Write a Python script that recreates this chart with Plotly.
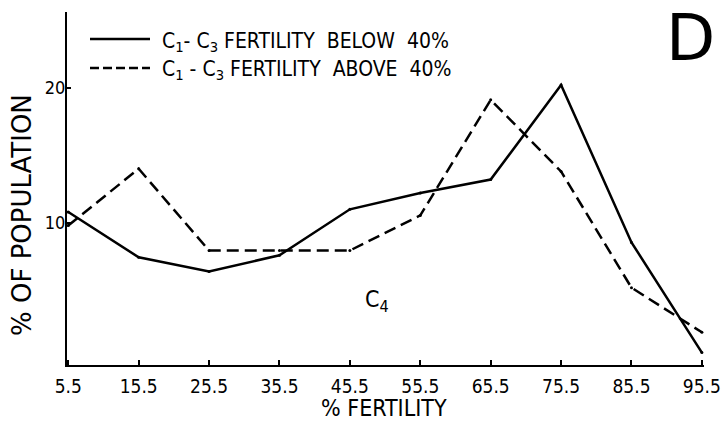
import plotly.graph_objects as go

fertility = [5.5, 15.5, 25.5, 35.5, 45.5, 55.5, 65.5, 75.5, 85.5, 95.5]
tick_labels = ["5.5", "15.5", "25.5", "35.5", "45.5", "55.5", "65.5", "75.5", "85.5", "95.5"]
below_40 = [10.8, 7.45, 6.4, 7.6, 11.0, 12.2, 13.2, 20.2, 8.55, 0.4]
above_40 = [9.8, 14.0, 7.95, 7.95, 7.95, 10.55, 19.1, 13.8, 5.2, 1.9]
y_ticks = [10, 20]

FONT = "DejaVu Sans Condensed, Liberation Sans Narrow, sans-serif"

fig = go.Figure()
fig.add_trace(go.Scatter(
    x=fertility, y=below_40, mode="lines+markers",
    line=dict(color="black", width=2.5),
    marker=dict(color="black", size=3),
    name="C1-C3 FERTILITY BELOW 40%", showlegend=False))
fig.add_trace(go.Scatter(
    x=fertility, y=above_40, mode="lines+markers",
    line=dict(color="black", width=2.5, dash="12px,6px"),
    marker=dict(color="black", size=3),
    name="C1-C3 FERTILITY ABOVE 40%", showlegend=False))

# Legend and titles drawn manually (paper coordinates)
W, H = 724, 422
L, R, T, B = 67, 20, 12, 57
pw, ph = W - L - R, H - T - B

def px(x):
    return (x - L) / pw

def py(y):
    return 1 - (y - T) / ph

fig.add_shape(type="line", xref="paper", yref="paper",
              x0=px(90), x1=px(150), y0=py(39), y1=py(39),
              line=dict(color="black", width=2.5))
fig.add_shape(type="line", xref="paper", yref="paper",
              x0=px(90), x1=px(150), y0=py(68), y1=py(68),
              line=dict(color="black", width=2.5, dash="9px,4px"))
fig.add_annotation(xref="paper", yref="paper", x=px(160), y=py(42),
                   xanchor="left", yanchor="middle", showarrow=False,
                   text="C<sub>1</sub>- C<sub>3</sub> FERTILITY  BELOW  40%",
                   font=dict(family=FONT, size=21, color="black"))
fig.add_annotation(xref="paper", yref="paper", x=px(160), y=py(70),
                   xanchor="left", yanchor="middle", showarrow=False,
                   text="C<sub>1</sub> - C<sub>3</sub> FERTILITY  ABOVE  40%",
                   font=dict(family=FONT, size=21, color="black"))
fig.add_annotation(xref="paper", yref="paper", x=px(690), y=py(38),
                   xanchor="center", yanchor="middle", showarrow=False,
                   text="D", font=dict(family="DejaVu Sans", size=64, color="black"))
fig.add_annotation(x=49.4, y=4.2, showarrow=False,
                   text="C<sub>4</sub>",
                   font=dict(family=FONT, size=23, color="black"))
fig.add_annotation(xref="paper", yref="paper", x=px(384), y=py(408),
                   xanchor="center", yanchor="middle", showarrow=False,
                   text="% FERTILITY",
                   font=dict(family=FONT, size=23, color="black"))
fig.add_annotation(xref="paper", yref="paper", x=px(22), y=py(215),
                   xanchor="center", yanchor="middle", showarrow=False,
                   textangle=-90, text="% OF POPULATION",
                   font=dict(family="DejaVu Sans, sans-serif", size=26, color="black"))

fig.update_xaxes(
    range=[5.32, 95.8], tickvals=fertility, ticktext=tick_labels,
    ticks="inside", ticklen=5, tickcolor="black", tickwidth=1.5,
    showline=True, linecolor="black", linewidth=2, showgrid=False, zeroline=False,
    tickfont=dict(family=FONT, size=19, color="black"), ticklabelstandoff=3,
    automargin=False)
fig.update_yaxes(
    range=[-0.52, 25.6], tickvals=y_ticks, ticktext=["10", "20"],
    ticks="inside", ticklen=4, tickcolor="black", tickwidth=1.5,
    showline=True, linecolor="black", linewidth=2, showgrid=False, zeroline=False,
    tickfont=dict(family=FONT, size=18, color="black"), ticklabelstandoff=-4,
    automargin=False)

fig.update_layout(
    width=W, height=H,
    margin=dict(l=L, r=R, t=T, b=B),
    paper_bgcolor="white", plot_bgcolor="white",
    showlegend=False)

fig.write_html("out.html", config={"displayModeBar": False},
               post_script="document.body.style.margin='0';document.body.style.overflow='hidden';")
